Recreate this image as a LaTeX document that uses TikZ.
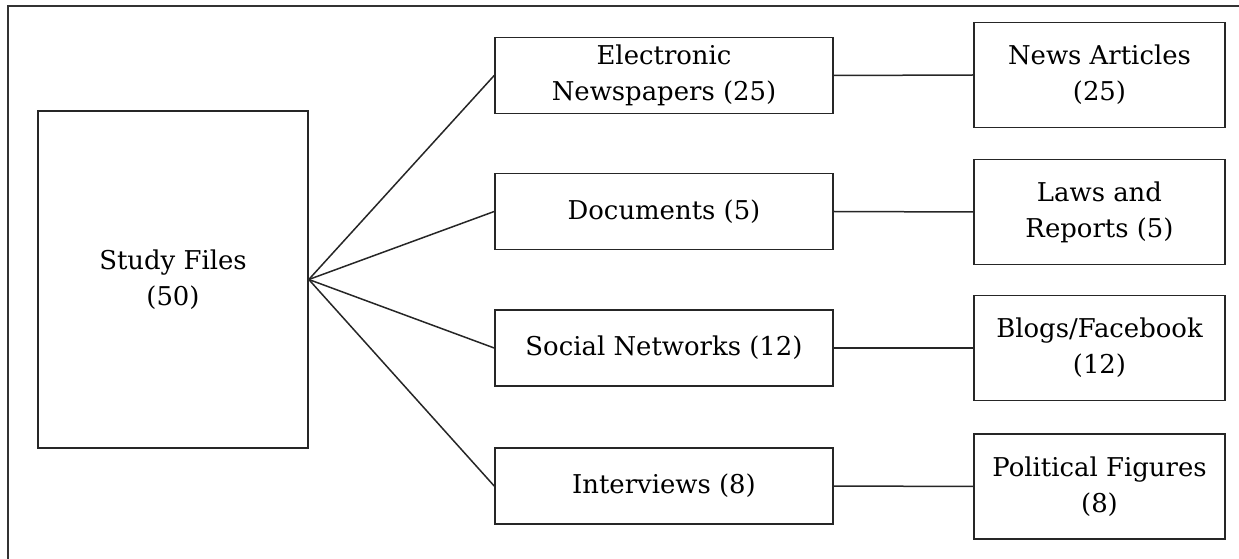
\documentclass[tikz,border=0pt]{standalone}
\usepackage{fontspec}
\setmainfont{DejaVu Serif}
\begin{document}
\begin{tikzpicture}[x=1bp,y=-1bp,
  box/.style={draw=black!85, line width=1.6bp, align=center, inner sep=0pt,
    font=\fontsize{26}{36}\selectfont},
  srcbox/.style={box, minimum width=270bp, minimum height=337bp},
  midbox/.style={box, minimum width=338bp, minimum height=76bp},
  leafbox/.style={box, minimum width=251bp, minimum height=105bp},
  link/.style={draw=black!85, line width=1.5bp},
  frame/.style={draw=black!80, line width=2.2bp}]
\useasboundingbox (0,0) rectangle (1239,559);
\draw[frame] (8,559) -- (8,6) -- (1239,6);
\node[srcbox] (study) at (173,279.5) {Study Files\\(50)};
\node[midbox] (m1) at (664,75.5) {Electronic\\Newspapers (25)};
\node[midbox] (m2) at (664,211.5) {Documents (5)};
\node[midbox] (m3) at (664,348) {Social Networks (12)};
\node[midbox] (m4) at (664,486) {Interviews (8)};
\node[leafbox] (r1) at (1099.5,75) {News Articles\\(25)};
\node[leafbox] (r2) at (1099.5,212) {Laws and\\Reports (5)};
\node[leafbox] (r3) at (1099.5,348) {Blogs/Facebook\\(12)};
\node[leafbox] (r4) at (1099.5,486.5) {Political Figures\\(8)};
\foreach \m in {m1,m2,m3,m4} \draw[link] (study.east) -- (\m.west);
\foreach \i in {1,2,3,4} \draw[link] (m\i.east) -- (r\i.west);
\end{tikzpicture}
\end{document}
